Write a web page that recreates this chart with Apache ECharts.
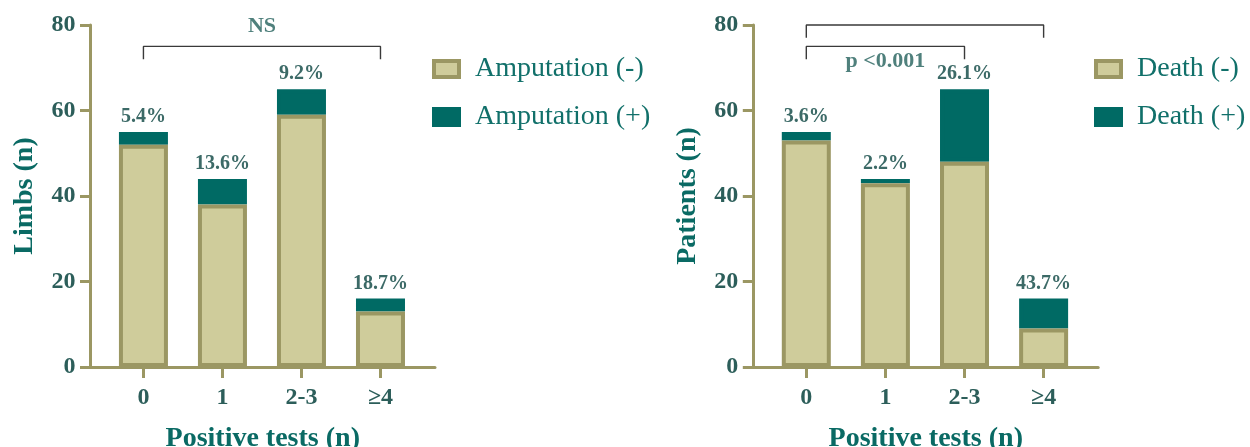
<!DOCTYPE html>
<html>
<head>
<meta charset="utf-8">
<script src="https://cdn.jsdelivr.net/npm/echarts@6/dist/echarts.min.js"></script>
<style>
  html, body { margin: 0; padding: 0; background: #ffffff; }
  #chart { width: 1250px; height: 447px; }
</style>
</head>
<body>
<div id="chart"></div>
<script>
// Categories: number of positive tests
const categories = ['0', '1', '2-3', '\u22654'];

// Limbs: amputation outcome per group
const amputationNeg = [52, 38, 59, 13];
const amputationPos = [3, 6, 6, 3];
const amputationPct = ['5.4%', '13.6%', '9.2%', '18.7%'];

// Patients: death outcome per group
const deathNeg = [53, 43, 48, 9];
const deathPos = [2, 1, 17, 7];
const deathPct = ['3.6%', '2.2%', '26.1%', '43.7%'];

// Value-axis ticks
const yTicks = [0, 20, 40, 60, 80];

// Significance brackets (category index span, bracket height, leg length) and their notes
const leftBrackets = [{ from: 0, to: 3, top: 75, leg: 3 }];
const leftNote = { text: 'NS', at: 1.5, level: 79.7 };
const rightBrackets = [
  { from: 0, to: 3, top: 80, leg: 3 },
  { from: 0, to: 2, top: 75, leg: 3 }
];
const rightNote = { text: 'p <0.001', at: 1, level: 71.5 };

const SERIF = '"Liberation Serif", "Times New Roman", serif';
const OLIVE = '#9b9763';
const LIGHT = '#cfcc9b';
const TEAL = '#006a64';
const TICK_TEXT = '#2c5e5a';
const PCT_TEXT = '#3c6a67';
const NAME_TEXT = '#0a6a64';
const LEGEND_TEXT = '#11706a';

const catIdx = categories.map((_, i) => i);
// Bar data is stored as [count, categoryIndex] so the count is the stacked dimension
const barPoints = (vals) => vals.map((v, i) => [v, i]);

function xAxisFor(gridIndex) {
  return {
    type: 'value', gridIndex,
    min: -0.67, max: 3.69,
    name: 'Positive tests (n)', nameLocation: 'middle', nameGap: 58,
    nameTextStyle: { fontFamily: SERIF, fontSize: 28, fontWeight: 'bold', color: NAME_TEXT },
    axisLine: { show: true, onZero: false, lineStyle: { color: OLIVE, width: 3 } },
    axisTick: { show: true, length: 11, lineStyle: { color: OLIVE, width: 3 }, customValues: catIdx },
    axisLabel: {
      customValues: catIdx, margin: 19,
      formatter: (v) => categories[Math.round(v)],
      fontFamily: SERIF, fontSize: 24, fontWeight: 'bold', color: TICK_TEXT
    },
    splitLine: { show: false }
  };
}

function yAxisFor(gridIndex, name) {
  return {
    type: 'value', gridIndex,
    min: yTicks[0], max: yTicks[yTicks.length - 1], interval: yTicks[1] - yTicks[0],
    name, nameLocation: 'middle', nameGap: 52,
    nameTextStyle: { fontFamily: SERIF, fontSize: 28, fontWeight: 'bold', color: NAME_TEXT },
    axisLine: { show: true, onZero: false, lineStyle: { color: OLIVE, width: 3 } },
    axisTick: { show: true, length: 10.5, lineStyle: { color: OLIVE, width: 3 } },
    axisLabel: { margin: 15, fontFamily: SERIF, fontSize: 24, fontWeight: 'bold', color: TICK_TEXT },
    splitLine: { show: false }
  };
}

function stackedBars(axisIndex, negName, posName, neg, pos, pct) {
  const common = {
    type: 'bar', stack: 's' + axisIndex,
    xAxisIndex: axisIndex, yAxisIndex: axisIndex,
    encode: { x: 1, y: 0 }, barWidth: 49
  };
  return [
    Object.assign({}, common, {
      name: negName, data: barPoints(neg), z: 3,
      itemStyle: { color: LIGHT, borderColor: OLIVE, borderWidth: 4 }
    }),
    Object.assign({}, common, {
      name: posName, data: barPoints(pos), z: 2,
      itemStyle: { color: TEAL, borderColor: TEAL, borderWidth: 4 },
      label: {
        show: true, position: 'top', distance: 5,
        formatter: (p) => pct[p.dataIndex],
        fontFamily: SERIF, fontSize: 20, fontWeight: 'bold', color: PCT_TEXT
      }
    })
  ];
}

function bracketSeries(axisIndex, brackets) {
  return brackets.map((b) => ({
    type: 'line', xAxisIndex: axisIndex, yAxisIndex: axisIndex,
    data: [[b.from, b.top - b.leg], [b.from, b.top], [b.to, b.top], [b.to, b.top - b.leg]],
    symbol: 'none', silent: true, clip: false, z: 5,
    lineStyle: { color: '#3a3a3a', width: 1.4 }
  }));
}

function noteSeries(axisIndex, note) {
  return {
    type: 'scatter', xAxisIndex: axisIndex, yAxisIndex: axisIndex,
    data: [[note.at, note.level]], symbolSize: 0, silent: true, clip: false, z: 6,
    label: {
      show: true, position: 'inside', formatter: note.text,
      fontFamily: SERIF, fontSize: 22, fontWeight: 'bold', color: '#23605b'
    }
  };
}

function legendFor(left, names) {
  return {
    orient: 'vertical', left, top: 50,
    icon: 'rect', itemWidth: 25, itemHeight: 16, itemGap: 20,
    selectedMode: false,
    data: [
      { name: names[0], itemStyle: { color: LIGHT, borderColor: OLIVE, borderWidth: 4 } },
      { name: names[1], itemStyle: { color: TEAL, borderColor: TEAL, borderWidth: 4 } }
    ],
    textStyle: { fontFamily: SERIF, fontSize: 28, color: LEGEND_TEXT, lineHeight: 28, padding: [0, 0, 0, 11] }
  };
}

const chart = echarts.init(document.getElementById('chart'), null, { renderer: 'canvas' });
chart.setOption({
  animation: false,
  backgroundColor: '#ffffff',
  grid: [
    { left: 90.5, top: 25, width: 344.5, height: 342, outerBoundsMode: 'none', containLabel: false },
    { left: 753.3, top: 25, width: 344.9, height: 342, outerBoundsMode: 'none', containLabel: false }
  ],
  xAxis: [xAxisFor(0), xAxisFor(1)],
  yAxis: [yAxisFor(0, 'Limbs (n)'), yAxisFor(1, 'Patients (n)')],
  legend: [
    legendFor(427, ['Amputation (-)', 'Amputation (+)']),
    legendFor(1089, ['Death (-)', 'Death (+)'])
  ],
  series: [
    ...stackedBars(0, 'Amputation (-)', 'Amputation (+)', amputationNeg, amputationPos, amputationPct),
    ...stackedBars(1, 'Death (-)', 'Death (+)', deathNeg, deathPos, deathPct),
    ...bracketSeries(0, leftBrackets),
    ...bracketSeries(1, rightBrackets),
    noteSeries(0, leftNote),
    noteSeries(1, rightNote)
  ]
});
</script>
</body>
</html>
